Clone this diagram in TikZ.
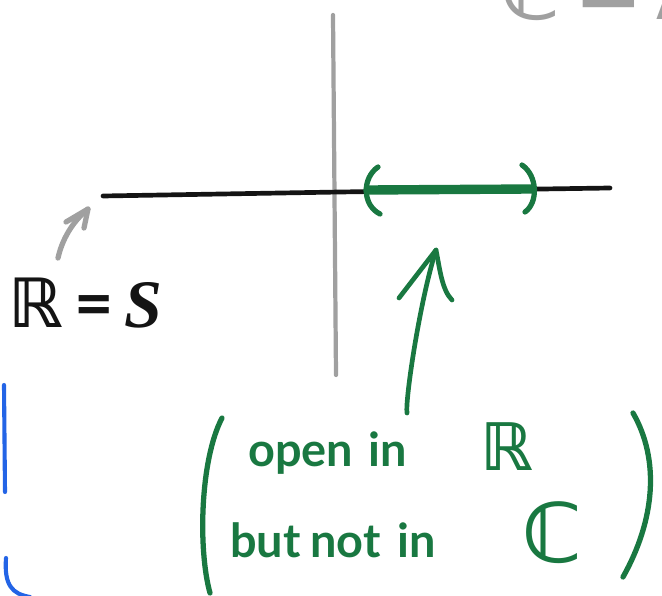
\documentclass[tikz,border=0pt]{standalone}
\usepackage{fontspec}
\setmainfont{Lato}
\newfontfamily\dsfont{DejaVu Sans}
\newfontfamily\lsfont{Liberation Serif}
\definecolor{pen}{RGB}{25,120,65}
\definecolor{pencil}{RGB}{160,160,160}
\definecolor{ink}{RGB}{20,20,20}
\definecolor{bluepen}{RGB}{35,100,230}
\tikzset{
  stroke/.style={line cap=round,line join=round},
  greenpen/.style={stroke,draw=pen,line width=5pt},
  graypen/.style={stroke,draw=pencil,line width=3.6pt},
  blackpen/.style={stroke,draw=ink,line width=4pt},
  greentext/.style={text=pen,inner sep=0pt,anchor=base west,font=\fontsize{40}{40}\selectfont\bfseries},
}
\begin{document}
\begin{tikzpicture}[x=0.03cm,y=-0.03cm]
\useasboundingbox (0,0) rectangle (662,596);
\clip (0,0) rectangle (662,596);
\fill[white] (0,0) rectangle (662,596);
% named points
\coordinate (axT) at (333,15);
\coordinate (axB) at (336,375);
\coordinate (lnL) at (103,196);
\coordinate (lnM) at (340,192);
\coordinate (lnR) at (610,188);
\coordinate (gL) at (368,190);
\coordinate (gR) at (532,189);
\coordinate (arT) at (436,250);
\coordinate (arB) at (407,413);
\coordinate (gaS) at (58,258);
\coordinate (gaE) at (88,209);
% top gray text (cut off by the page edge, as in the reference)
\node[text=pencil,inner sep=0pt,anchor=base west,font=\fontsize{70}{70}\selectfont\bfseries\dsfont] (top) at (500,20) {ℂ\,=\,Δ};
% axis
\draw[graypen] (axT) -- (axB);
% real line
\draw[blackpen] (lnL) -- (lnM) -- (lnR);
% green interval
\draw[stroke,draw=pen,line width=8pt] (gL) -- (gR);
\draw[greenpen,line width=4.5pt] (378,167) .. controls (362,178) and (362,205) .. (380,214);
\draw[greenpen,line width=4.5pt] (522,165) .. controls (538,176) and (538,203) .. (525,212);
% green arrow
\draw[greenpen,line width=4pt] (arB) .. controls (405,400) and (420,300) .. (arT);
\draw[greenpen,line width=4pt] (399,298) -- (arT) .. controls (440,270) and (442,290) .. (452,300);
% gray arrow
\draw[graypen,line width=4.5pt] (gaS) .. controls (62,240) and (72,222) .. (gaE);
\draw[graypen,line width=4.5pt] (66,222) -- (gaE) -- (84,228);
% R = S
\node[text=ink,inner sep=0pt,anchor=base west,font=\fontsize{58}{58}\selectfont\bfseries] (rs) at (8,328) {{\dsfont ℝ}\,=\,{\lsfont\itshape S}};
% green label
\node[greentext] (w1) at (248,467) {open};
\node[greentext] (w2) at (368,467) {in};
\node[greentext,font=\fontsize{56}{56}\selectfont\bfseries\dsfont] (w3) at (480,471) {ℝ};
\node[greentext] (w4) at (230,558) {but};
\node[greentext] (w5) at (310,558) {not};
\node[greentext] (w6) at (397,558) {in};
\node[greentext,font=\fontsize{70}{70}\selectfont\bfseries\dsfont] (w7) at (522,562) {ℂ};
% big parentheses
\draw[greenpen,line width=4.5pt] (222,418) .. controls (200,460) and (198,550) .. (210,593);
\draw[greenpen,line width=4.5pt] (633,413) .. controls (660,460) and (655,520) .. (623,577);
% blue strokes at left
\draw[stroke,draw=bluepen,line width=3.5pt] (4,385) -- (5,492);
\draw[stroke,draw=bluepen,line width=3.5pt] (6,558) .. controls (4,585) and (12,594) .. (30,597);
\end{tikzpicture}
\end{document}
